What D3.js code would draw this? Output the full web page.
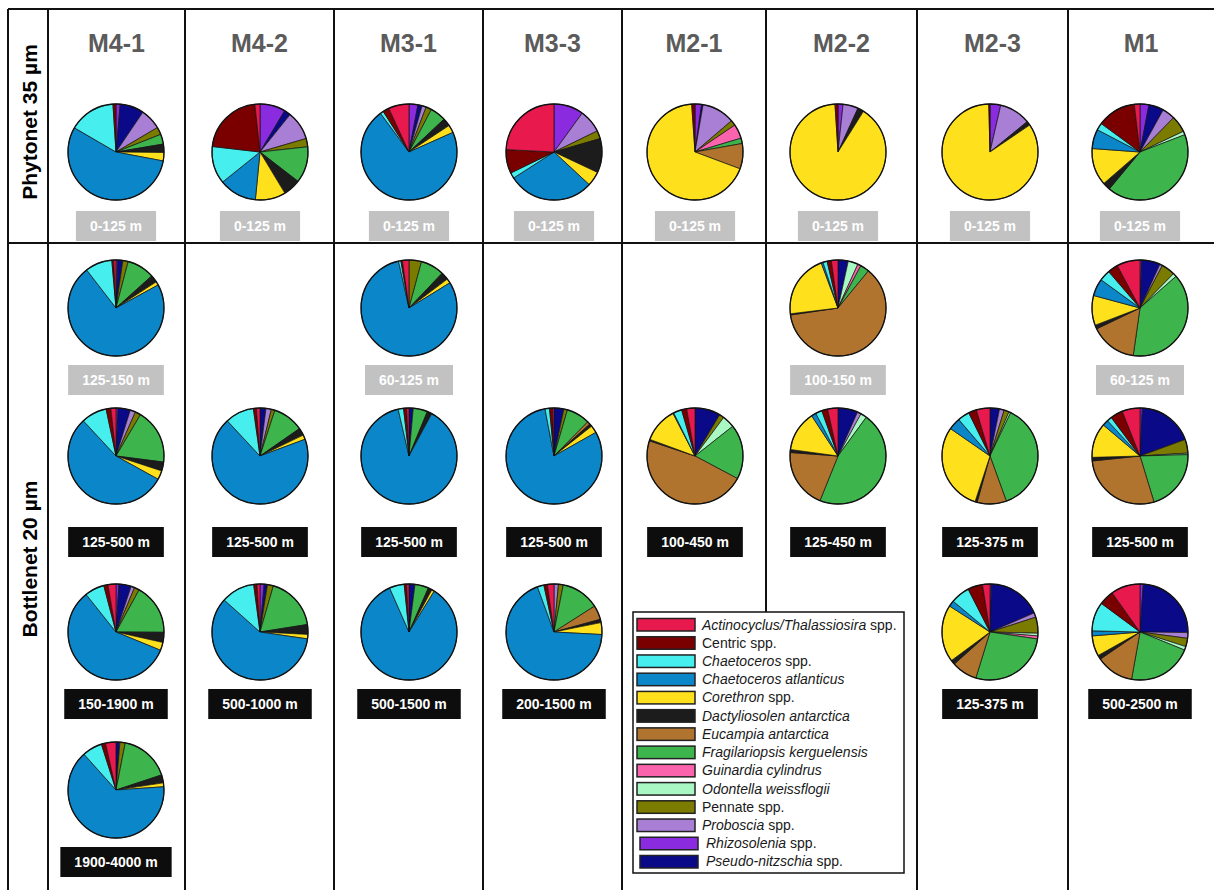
<!DOCTYPE html>
<html><head><meta charset="utf-8">
<script src="https://cdn.jsdelivr.net/npm/d3@7"></script>
<style>
body{margin:0;background:#fff;}
svg{display:block;font-family:"Liberation Sans",Arial,Helvetica,sans-serif;}
</style>
</head><body>
<svg id="chart" width="1214" height="890"></svg>
<script>
// ---------- DATA ----------
// species in legend order
const species = ["Actinocyclus/Thalassiosira spp.","Centric spp.","Chaetoceros spp.","Chaetoceros atlanticus","Corethron spp.","Dactyliosolen antarctica","Eucampia antarctica","Fragilariopsis kerguelensis","Guinardia cylindrus","Odontella weissflogii","Pennate spp.","Proboscia spp.","Rhizosolenia spp.","Pseudo-nitzschia spp."];
const legendItalic = ["Actinocyclus/Thalassiosira","","Chaetoceros","Chaetoceros atlanticus","Corethron","Dactyliosolen antarctica","Eucampia antarctica","Fragilariopsis kerguelensis","Guinardia cylindrus","Odontella weissflogii","","Proboscia","Rhizosolenia","Pseudo-nitzschia"];
const legendPlain = [" spp.","Centric spp."," spp.",""," spp.","","","","","","Pennate spp."," spp."," spp."," spp."];
const speciesColors = ["#e8194c","#7a0000","#46eeee","#0a86c9","#ffe01c","#1c1c1c","#b0742e","#3db54c","#fb63ad","#a9f7c3","#7b7b00","#a97fd6","#8a2be0","#0a0a88"];
// clockwise slice order, starting at 12 o'clock
const pieOrder = ["Rhizosolenia spp.","Pseudo-nitzschia spp.","Proboscia spp.","Pennate spp.","Odontella weissflogii","Guinardia cylindrus","Fragilariopsis kerguelensis","Eucampia antarctica","Dactyliosolen antarctica","Corethron spp.","Chaetoceros atlanticus","Chaetoceros spp.","Centric spp.","Actinocyclus/Thalassiosira spp."];

const stations = ["M4-1","M4-2","M3-1","M3-3","M2-1","M2-2","M2-3","M1"];
const netLabels = ["Phytonet 35 µm","Bottlenet 20 µm"];

// one entry per pie
const sampleStation = ["M4-1","M4-2","M3-1","M3-3","M2-1","M2-2","M2-3","M1",
  "M4-1","M3-1","M2-2","M1",
  "M4-1","M4-2","M3-1","M3-3","M2-1","M2-2","M2-3","M1",
  "M4-1","M4-2","M3-1","M3-3","M2-3","M1",
  "M4-1"];
const sampleSlot = [0,0,0,0,0,0,0,0, 1,1,1,1, 2,2,2,2,2,2,2,2, 3,3,3,3,3,3, 4];
const sampleDepth = ["0-125 m","0-125 m","0-125 m","0-125 m","0-125 m","0-125 m","0-125 m","0-125 m",
  "125-150 m","60-125 m","100-150 m","60-125 m",
  "125-500 m","125-500 m","125-500 m","125-500 m","100-450 m","125-450 m","125-375 m","125-500 m",
  "150-1900 m","500-1000 m","500-1500 m","200-1500 m","125-375 m","500-2500 m",
  "1900-4000 m"];
const sampleLayer = ["upper","upper","upper","upper","upper","upper","upper","upper",
  "upper","upper","upper","upper",
  "deep","deep","deep","deep","deep","deep","deep","deep",
  "deep","deep","deep","deep","deep","deep","deep"];
// values (%) in pieOrder
const sampleValues = [
  [1.4,8,7,2.5,0,0,3.3,0,2.8,2.8,55,15.5,1,0],
  [8.6,2.2,9.7,2.8,0,0,12.2,0,5.9,10.2,12.7,12.6,21.5,1.7],
  [3,1.4,1.4,1.9,0,0,5.3,0,2.7,2.6,71.5,1.1,2.1,6.9],
  [10,0,7.8,2.7,0,0,0,0,11.5,4.9,29,1.9,8,24.2],
  [2.2,0.5,11,1.8,0,4.8,1.8,8.5,0,68,0,0,1.1,0],
  [1.7,0,5.1,0,0,0,0,0,2.1,90,0,0,1,0],
  [3.6,0,10.5,0,0,0,0,0,1.4,84,0,0,0.4,0],
  [3,5,4.3,5.6,1.2,0,41.8,0,2.6,12.5,6.5,2.4,13,1.9],
  [0.6,1.7,0,1.8,0,0,9.3,0,2.5,1.2,72.8,9.1,0.6,0.8],
  [0,0,0,4.2,0,0,7.9,0,2.6,1.5,80.2,0.8,0.5,2.2],
  [0,3.4,0,0,3.3,1.1,3,61,0.4,21,0.6,1.4,1.4,2.2],
  [0.6,6.2,0.9,4.6,1.2,0,38.7,15.6,1.3,10,5.8,3.7,3.5,7.8],
  [0.7,4.1,1.8,1.9,0,0,18.5,0,3,3,55,8.6,1.6,1.7],
  [0,2,1.8,1.2,0,0,10.3,0,2.5,1.5,68.6,9.7,1,1.2],
  [0,1.4,0,0,0,0,4.8,0,1.6,0,88,1.8,1,0.8],
  [0,3.3,0,1.2,0,0,7.9,1,0.9,2.5,80,1.5,1,0.5],
  [0,8.6,0,1.6,4.2,0,18.4,47.4,0.5,11.8,0.3,2.8,1.7,2.8],
  [0,6.7,1.3,0,2.1,0,46.4,20.2,1,13.7,1.6,2.2,2,3.5],
  [0,3.2,1.6,1.7,0.6,0,37.5,9.9,0.7,29.7,4.1,4,2.7,4.6],
  [0.8,18.6,0,4.6,0.5,0,20.7,28,1.2,11.6,2,1.6,4.2,6],
  [1,4.1,1.2,1.7,0,0,17.1,0,3.4,2.7,58.1,6.6,1.4,2.7],
  [1.4,1.1,0,2,0,0,18,0,3.3,1.5,59.3,11.3,1.1,1],
  [0,2,0,0,0,0,4.6,0,1.3,0.9,84.5,5,0.8,0.8],
  [0,0,1.5,1.6,0,0,12.9,4.8,1.1,4,68.7,2.2,1.2,2.2],
  [0.5,18,1.5,5.4,0.9,1,27.4,8.6,1.5,19.2,2,6.4,5,2.5],
  [1.1,24,1.9,2.8,1.2,0,21.6,12.6,1.4,6.8,1.7,9.7,5,9.8],
  [0,1.3,0,1.8,0,0,16.8,0,2.7,1.3,64.4,6.7,1.4,3.5]
];

// ---------- LAYOUT ----------
const svg = d3.select("#chart");
const W = 1214, H = 890;
const colEdges = [48,185,334,483,622,766,917,1068,1214];
const headerX = d3.scaleOrdinal().domain(stations).range(stations.map((s,i)=>(colEdges[i]+colEdges[i+1])/2));
const pieX = d3.scaleOrdinal().domain(stations).range([116,260,409,554,695,838,990,1140]);
const pieY = d3.scaleOrdinal().domain([0,1,2,3,4]).range([152,308,456,632,790]);
const labelY = d3.scaleOrdinal().domain([0,1,2,3,4]).range([226,380,542,704,862]);
const color = d3.scaleOrdinal().domain(species).range(speciesColors);
const R = 48;

// grid
const grid = svg.append("g").attr("stroke","#111").attr("stroke-width",2).attr("fill","none");
grid.append("line").attr("x1",8).attr("x2",W).attr("y1",9).attr("y2",9);
grid.append("line").attr("x1",8).attr("x2",W).attr("y1",243).attr("y2",243);
grid.append("line").attr("x1",8).attr("x2",8).attr("y1",9).attr("y2",H);
colEdges.slice(0,-1).forEach((x,i)=>{
  const y2 = (i===5) ? 612 : H;
  grid.append("line").attr("x1",x).attr("x2",x).attr("y1",9).attr("y2",y2);
});

// headers
svg.append("g").selectAll("text").data(stations).join("text")
  .attr("x",d=>headerX(d)).attr("y",52)
  .attr("text-anchor","middle").attr("font-size",25).attr("font-weight","bold")
  .attr("fill","#5b5b5b").text(d=>d);

// row labels
const netCenters = [122,559];
svg.append("g").selectAll("text").data(netLabels).join("text")
  .attr("transform",(d,i)=>`translate(37,${netCenters[i]}) rotate(-90)`)
  .attr("text-anchor","middle").attr("font-size",21).attr("font-weight","bold")
  .attr("fill","#000").text(d=>d);

// pies
const pie = d3.pie().sort(null).value(d=>d.v);
const arc = d3.arc().innerRadius(0).outerRadius(R);
sampleValues.forEach((vals,k)=>{
  const cx = pieX(sampleStation[k]), cy = pieY(sampleSlot[k]);
  const g = svg.append("g").attr("transform",`translate(${cx},${cy})`);
  const data = pieOrder.map((s,i)=>({s, v: vals[i]})).filter(d=>d.v>0);
  g.selectAll("path").data(pie(data)).join("path")
    .attr("d",arc).attr("fill",d=>color(d.data.s))
    .attr("stroke","#111").attr("stroke-width",0.7).attr("stroke-linejoin","round");
  g.append("circle").attr("r",R).attr("fill","none").attr("stroke","#111").attr("stroke-width",1.3);

  // depth label
  const ly = labelY(sampleSlot[k]);
  const lg = svg.append("g");
  const t = lg.append("text").attr("x",cx).attr("y",ly+5)
    .attr("text-anchor","middle").attr("font-size",14).attr("font-weight","bold")
    .attr("fill","#fff").text(sampleDepth[k]);
  const tw = t.node().getComputedTextLength();
  lg.insert("rect","text").attr("x",cx-tw/2-14).attr("y",ly-15)
    .attr("width",tw+28).attr("height",30)
    .attr("fill", sampleLayer[k]==="upper" ? "#c2c2c2" : "#0d0d0d");
});

// legend
const lgX = 633, lgY = 612, lgW = 271, lgH = 261, step = 18.23;
const leg = svg.append("g");
leg.append("rect").attr("x",lgX).attr("y",lgY).attr("width",lgW).attr("height",lgH)
  .attr("fill","#fff").attr("stroke","#111").attr("stroke-width",1.5);
const items = leg.selectAll("g.item").data(species).join("g").attr("class","item")
  .attr("transform",(d,i)=>`translate(0,${lgY + 12.5 + i*step})`);
items.append("rect").attr("x",(d,i)=>i>=12?640:637).attr("y",-6).attr("width",58).attr("height",12.5)
  .attr("fill",d=>color(d)).attr("stroke","#222").attr("stroke-width",1.5);
const lt = items.append("text").attr("x",(d,i)=>i>=12?706:702).attr("y",5).attr("font-size",14).attr("fill","#1a1a1a");
lt.each(function(d,i){
  const el = d3.select(this);
  if (legendItalic[i]) el.append("tspan").attr("font-style","italic").text(legendItalic[i]);
  if (legendPlain[i]) el.append("tspan").text(legendPlain[i]);
});
</script>
</body></html>
